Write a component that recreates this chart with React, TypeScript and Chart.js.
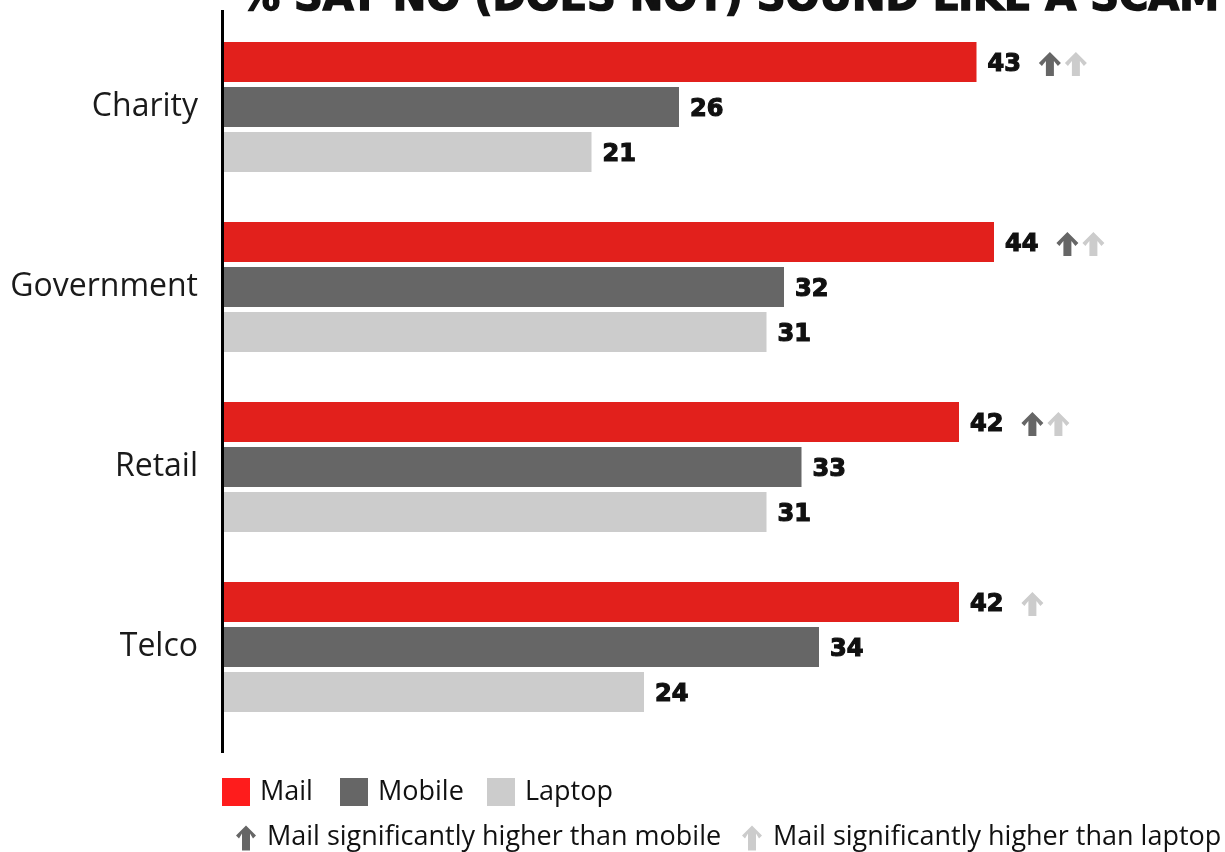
import React, { useEffect, useRef } from "react";
import { Chart, registerables } from "chart.js";

Chart.register(...registerables);

const title = "% SAY NO (DOES NOT) SOUND LIKE A SCAM";
const categories = ["Charity", "Government", "Retail", "Telco"];
const seriesNames = ["Mail", "Mobile", "Laptop"];
const mailValues = [43, 44, 42, 42];
const mobileValues = [26, 32, 33, 34];
const laptopValues = [21, 31, 31, 24];
// significance markers for Mail bars
const higherThanMobile = [true, true, true, false];
const higherThanLaptop = [true, true, true, true];
const noteMobile = "Mail significantly higher than mobile";
const noteLaptop = "Mail significantly higher than laptop";

const RED = "#e2201c";
const DARK = "#666666";
const LIGHT = "#cccccc";
const LABEL_FONT = "'Open Sans', sans-serif";
const VALUE_FONT = "bold 24px 'DejaVu Sans', sans-serif";

function drawArrow(ctx: CanvasRenderingContext2D, cx: number, cy: number, color: string, h = 24, w = 22) {
  const top = cy - h / 2;
  const bot = cy + h / 2;
  const headH = w / 2;
  const shaft = 8;
  ctx.save();
  ctx.fillStyle = color;
  ctx.beginPath();
  ctx.moveTo(cx, top);
  ctx.lineTo(cx + w / 2, top + headH);
  ctx.lineTo(cx + w / 2 - 3, top + headH + 3);
  ctx.lineTo(cx + shaft / 2, top + headH - 2);
  ctx.lineTo(cx + shaft / 2, bot);
  ctx.lineTo(cx - shaft / 2, bot);
  ctx.lineTo(cx - shaft / 2, top + headH - 2);
  ctx.lineTo(cx - w / 2 + 3, top + headH + 3);
  ctx.lineTo(cx - w / 2, top + headH);
  ctx.closePath();
  ctx.fill();
  ctx.restore();
}

const decorPlugin = {
  id: "decor",
  afterDatasetsDraw(chart: any) {
    const ctx: CanvasRenderingContext2D = chart.ctx;
    const area = chart.chartArea;
    ctx.save();
    // title (clipped at top)
    ctx.fillStyle = "#111111";
    ctx.strokeStyle = "#111111";
    ctx.lineWidth = 1.5;
    ctx.font = "bold 40px 'DejaVu Sans', sans-serif";
    ctx.textAlign = "left";
    ctx.textBaseline = "alphabetic";
    ctx.fillText(title, 240, 10);
    ctx.strokeText(title, 240, 10);

    // axis line
    ctx.fillStyle = "#000000";
    ctx.fillRect(area.left - 3, 10, 3, 743);

    // value labels and arrows
    ctx.font = VALUE_FONT;
    ctx.textBaseline = "middle";
    ctx.lineWidth = 1.2;
    chart.data.datasets.forEach((ds: any, di: number) => {
      const meta = chart.getDatasetMeta(di);
      meta.data.forEach((bar: any, i: number) => {
        const txt = String(ds.data[i]);
        const x = bar.x + 11;
        ctx.fillStyle = "#111111";
        ctx.strokeStyle = "#111111";
        ctx.fillText(txt, x, bar.y + 3);
        ctx.strokeText(txt, x, bar.y + 3);
        if (di === 0) {
          const end = x + ctx.measureText(txt).width;
          let cx = end + 29;
          if (higherThanMobile[i]) {
            drawArrow(ctx, cx, bar.y + 2, DARK);
            cx += 26;
          }
          if (higherThanLaptop[i]) {
            drawArrow(ctx, cx, bar.y + 2, LIGHT);
          }
        }
      });
    });

    // legend row 1
    const colors = ["#fe1c1c", DARK, LIGHT];
    const boxX = [222, 340, 487];
    ctx.font = `27px ${LABEL_FONT}`;
    ctx.textBaseline = "middle";
    seriesNames.forEach((n, i) => {
      ctx.fillStyle = colors[i];
      ctx.fillRect(boxX[i], 778, 28, 28);
      ctx.fillStyle = "#111111";
      ctx.fillText(n, boxX[i] + 38, 792);
    });
    // legend row 2
    drawArrow(ctx, 246, 838, DARK, 25, 20);
    ctx.fillStyle = "#111111";
    ctx.fillText(noteMobile, 267, 837);
    drawArrow(ctx, 752, 838, LIGHT, 25, 20);
    ctx.fillStyle = "#111111";
    ctx.fillText(noteLaptop, 773, 837);
    ctx.restore();
  },
};

export default function App() {
  const ref = useRef<HTMLCanvasElement>(null);
  useEffect(() => {
    if (!ref.current) return;
    const chart = new Chart(ref.current, {
      type: "bar",
      data: {
        labels: categories,
        datasets: [
          { label: seriesNames[0], data: mailValues, backgroundColor: RED },
          { label: seriesNames[1], data: mobileValues, backgroundColor: DARK },
          { label: seriesNames[2], data: laptopValues, backgroundColor: LIGHT },
        ],
      },
      options: {
        indexAxis: "y",
        animation: false,
        responsive: false,
        maintainAspectRatio: false,
        layout: { padding: { top: 17, bottom: 115, left: 0, right: 21 } },
        datasets: { bar: { categoryPercentage: 0.75, barPercentage: 40 / 45 } },
        plugins: { legend: { display: false }, tooltip: { enabled: false } },
        scales: {
          x: { display: false, min: 0, max: 56 },
          y: {
            grid: { display: false, drawTicks: false },
            border: { display: false },
            afterFit: (s: any) => {
              s.width = 224;
              s.paddingTop = 0;
              s.paddingBottom = 0;
            },
            ticks: {
              padding: 26,
              color: "#1a1a1a",
              font: { family: LABEL_FONT, size: 32 },
            },
          },
        },
      },
      plugins: [decorPlugin],
    });
    return () => chart.destroy();
  }, []);
  return (
    <div style={{ position: "absolute", left: 0, top: 0, width: 1225, height: 852, background: "#fff" }}>
      <canvas ref={ref} width={1225} height={852} />
    </div>
  );
}
